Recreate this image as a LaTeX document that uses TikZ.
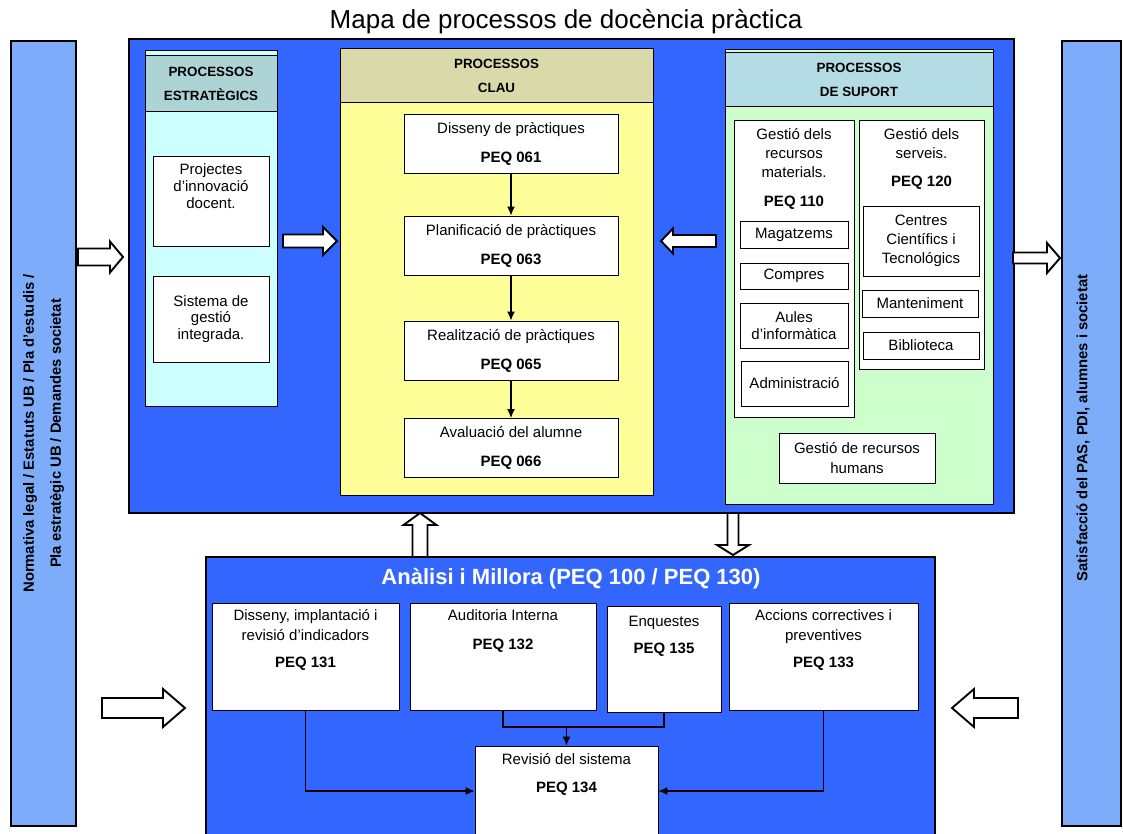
\documentclass[tikz,border=0pt]{standalone}
\usepackage{fontspec}
\setmainfont{Liberation Sans}
\usetikzlibrary{positioning, arrows.meta}

\definecolor{mainblue}{HTML}{3366FF}
\definecolor{sideblue}{HTML}{7DADFA}
\definecolor{stratbg}{HTML}{CCFFFF}
\definecolor{strathd}{HTML}{ACD3D6}
\definecolor{claubg}{HTML}{FFFF99}
\definecolor{clauhd}{HTML}{D9D9A9}
\definecolor{suppbg}{HTML}{CCFFCC}
\definecolor{supphd}{HTML}{B4DCE4}

\begin{document}
\begin{tikzpicture}[x=1pt, y=-1pt]

\tikzstyle{arrow} = [line width=1.3pt, -{Latex[length=9pt, width=8pt]}]
\tikzstyle{line} = [line width=1.3pt]
\tikzset{box/.style = {rectangle, draw, fill=white, line width=0.9pt, inner sep=0pt, align=center, font=\fontsize{15}{17}\selectfont}, }
\tikzset{column/.style = {rectangle, draw, line width=1pt, inner sep=0pt}, }
\tikzset{header/.style = {rectangle, draw, line width=1pt, inner sep=0pt, align=center, font=\fontsize{13.4}{24}\selectfont\bfseries}, }
\tikzset{panel/.style = {rectangle, draw, fill=mainblue, line width=1.6pt, inner sep=0pt}, }
\tikzset{sidebar/.style = {rectangle, draw, fill=sideblue, line width=1.6pt, inner sep=0pt}, }
\tikzset{sidetext/.style = {rotate=90, align=center, inner sep=0pt, font=\fontsize{14.8}{27}\selectfont\bfseries}, }
\tikzset{txt/.style = {align=center, inner sep=0pt, font=\fontsize{15}{17}\selectfont}, }
\tikzset{fatline/.style = {draw, fill=white, line width=1.9pt, line join=miter}, }
\tikzset{pics/fatarrow/.style n args={4}{code={
  \draw[fatline] (0,{-#2}) -- ({#1-#4},{-#2}) -- ({#1-#4},{-#3}) -- (#1,0) -- ({#1-#4},#3) -- ({#1-#4},#2) -- (0,#2) -- cycle;
}}}

\useasboundingbox (0,0) rectangle (1123,834);

\node[font=\fontsize{26}{30}\selectfont, anchor=base] (title) at (566,29) {Mapa de processos de docència pràctica};

\node[sidebar, minimum width=65, minimum height=785] (input) at (43.5,433.5) {};
\node[sidetext] (inputtxt) at (input) {Normativa legal / Estatuts UB / Pla d'estudis /\\Pla estratègic UB / Demandes societat};
\node[sidebar, minimum width=59, minimum height=785] (output) at (1091.5,433.5) {};
\node[sidetext] (outputtxt) at (1083,428) {Satisfacció del PAS, PDI, alumnes i societat};

\node[panel, minimum width=885, minimum height=474] (main) at (571.5,276) {};
\node[panel, minimum width=729, minimum height=293] (millora) at (570.5,703.5) {};
\node[font=\fontsize{22}{26}\selectfont\bfseries, text=white, anchor=base] (milloratxt) at (571,584) {Anàlisi i Millora (PEQ 100 / PEQ 130)};

\node[column, fill=stratbg, minimum width=132, minimum height=355] (strat) at (211,228.5) {};
\node[header, fill=strathd, minimum width=132, minimum height=56] (strathead) at (211,84) {PROCESSOS\\ESTRATÈGICS};
\node[box, minimum width=116, minimum height=90] (innov) at (211,201) {};
\node[txt, below=8pt of innov.north] (innovtxt) {Projectes\\d'innovació\\docent.};
\node[box, minimum width=116, minimum height=86, font=\fontsize{15}{16.5}\selectfont] (sgi) at (211,319) {Sistema de\\gestió\\integrada.};

\node[column, fill=claubg, minimum width=313, minimum height=446] (clau) at (496.5,272) {};
\node[header, fill=clauhd, minimum width=313, minimum height=54] (clauhead) at (496.5,76) {PROCESSOS\\CLAU};
\node[box, minimum width=214, minimum height=59] (peq61) at (511,143.5) {Disseny de pràctiques\\[12pt]\textbf{PEQ 061}};
\node[box, minimum width=214, minimum height=59] (peq63) at (511,245.5) {Planificació de pràctiques\\[12pt]\textbf{PEQ 063}};
\node[box, minimum width=214, minimum height=59] (peq65) at (511,350.5) {Realització de pràctiques\\[12pt]\textbf{PEQ 065}};
\node[box, minimum width=214, minimum height=59] (peq66) at (511,448) {Avaluació del alumne\\[12pt]\textbf{PEQ 066}};

\node[column, fill=suppbg, minimum width=268, minimum height=454] (supp) at (859,277) {};
\node[header, fill=supphd, minimum width=268, minimum height=54] (supphead) at (859,80) {PROCESSOS\\DE SUPORT};
\node[box, minimum width=120, minimum height=297] (materials) at (794,268.5) {};
\node[txt, font=\fontsize{15}{19}\selectfont, below=9pt of materials.north] (materialstxt) {Gestió dels\\recursos\\materials.\\[10pt]\textbf{PEQ 110}};
\node[box, minimum width=108, minimum height=27] (magatzems) at (794,234.5) {Magatzems};
\node[box, minimum width=108, minimum height=26] (compres) at (794,276) {Compres};
\node[box, minimum width=108, minimum height=45] (aules) at (794,325.5) {Aules\\d'informàtica};
\node[box, minimum width=107, minimum height=45] (admin) at (794.5,383.5) {Administració};
\node[box, minimum width=125, minimum height=249] (serveis) at (921.5,244.5) {};
\node[txt, font=\fontsize{15}{19}\selectfont, below=9pt of serveis.north] (serveistxt) {Gestió dels\\serveis.\\[9pt]\textbf{PEQ 120}};
\node[box, minimum width=116, minimum height=70, font=\fontsize{15}{19}\selectfont] (ccit) at (921,241) {Centres\\Científics i\\Tecnológics};
\node[box, minimum width=116, minimum height=27] (manteniment) at (920,303.5) {Manteniment};
\node[box, minimum width=116, minimum height=27] (biblioteca) at (921,345.5) {Biblioteca};
\node[box, minimum width=156, minimum height=50, font=\fontsize{15}{20}\selectfont] (rrhh) at (857,458) {Gestió de recursos\\humans};

\node[box, minimum width=187, minimum height=107] (peq131) at (305.5,656.5) {};
\node[txt, font=\fontsize{15}{20}\selectfont, below=7pt of peq131.north] (peq131txt) {Disseny, implantació i\\revisió d'indicadors\\[7pt]\textbf{PEQ 131}};
\node[box, minimum width=186, minimum height=107] (peq132) at (503,656.5) {};
\node[txt, font=\fontsize{15}{29}\selectfont, below=7pt of peq132.north] (peq132txt) {Auditoria Interna\\\textbf{PEQ 132}};
\node[box, minimum width=114, minimum height=106] (peq135) at (664,659) {};
\node[txt, font=\fontsize{15}{27}\selectfont, below=10pt of peq135.north] (peq135txt) {Enquestes\\\textbf{PEQ 135}};
\node[box, minimum width=189, minimum height=107] (peq133) at (823.5,656.5) {};
\node[txt, font=\fontsize{15}{20}\selectfont, below=7pt of peq133.north] (peq133txt) {Accions correctives i\\preventives\\[7pt]\textbf{PEQ 133}};
\node[box, minimum width=183, minimum height=90] (peq134) at (566.5,791) {};
\node[txt, font=\fontsize{15}{28}\selectfont, below=8pt of peq134.north] (peq134txt) {Revisió del sistema\\\textbf{PEQ 134}};
\coordinate (merge) at (566.5,727);

\draw[arrow] (peq61) -- (peq63);
\draw[arrow] (peq63) -- (peq65);
\draw[arrow] (peq65) -- (peq66);
\draw[arrow] (peq131.south) |- (peq134.west);
\draw[arrow] (peq133.south) |- (peq134.east);
\draw[line] (peq132.south) |- (merge) -| (peq135.south);
\draw[arrow] (merge) -- (peq134.north);

\pic at (78,257) {fatarrow={45}{8.5}{15.5}{13}};
\pic at (283,241) {fatarrow={54}{6.5}{14}{14}};
\pic[rotate=180] at (716,241) {fatarrow={55}{6}{12.5}{12}};
\pic at (1013,258) {fatarrow={47}{5.5}{15}{13}};
\pic at (102,708) {fatarrow={83}{10}{19}{22}};
\pic[rotate=180] at (1018,708) {fatarrow={66}{10}{19}{22}};
\pic[rotate=90] at (420,557) {fatarrow={44}{7.5}{16.5}{12}};
\pic[rotate=-90] at (733,513) {fatarrow={42}{5.5}{16}{10}};
\end{tikzpicture}
\end{document}
